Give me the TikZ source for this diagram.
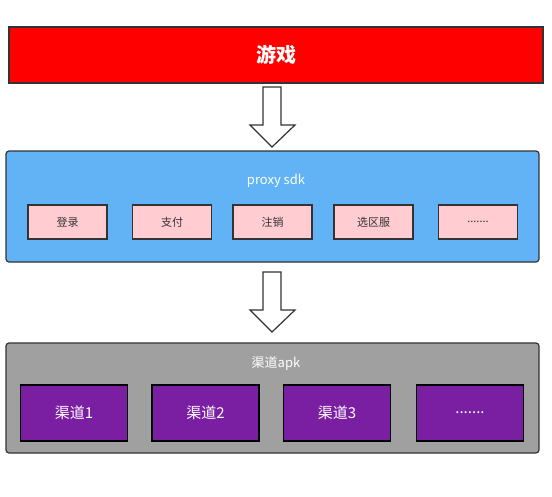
\documentclass[tikz,border=0pt]{standalone}
\usepackage{fontspec}
\usetikzlibrary{calc}
\setmainfont{Noto Sans CJK SC}
\definecolor{gred}{HTML}{FF0000}
\definecolor{sdkblue}{HTML}{62B3F5}
\definecolor{funcpink}{HTML}{FFCCD2}
\definecolor{apkgray}{HTML}{A0A0A0}
\definecolor{chpurple}{HTML}{7B1FA2}
\definecolor{edge}{HTML}{333333}
\begin{document}
\begin{tikzpicture}[x=1pt,y=-1pt,
  layerbox/.style={draw=edge,line width=1.2pt,rounded corners=3pt,inner sep=0pt},
  funcbox/.style={draw=edge,line width=1.2pt,fill=funcpink,minimum width=79pt,minimum height=34pt,inner sep=0pt,text=edge,font=\fontsize{11}{13}\selectfont},
  chbox/.style={draw=black,line width=1.2pt,fill=chpurple,minimum width=107pt,minimum height=56pt,inner sep=0pt,text=white,font=\fontsize{15}{18}\selectfont},
  bigarrow/.style={draw=edge,line width=1.2pt,fill=white,line join=miter}]
\useasboundingbox (0,0) rectangle (552,496);
% game
\node[draw=edge,line width=1.2pt,fill=gred,minimum width=534pt,minimum height=56pt,inner sep=0pt,text=white,font=\fontsize{20}{24}\selectfont\bfseries] (game) at (276,55) {游戏};
% proxy sdk layer
\node[layerbox,fill=sdkblue,minimum width=533pt,minimum height=111pt] (sdk) at (272.5,206.5) {};
\node[text=white,font=\fontsize{13}{15}\selectfont] (sdklabel) at (276,181) {proxy sdk};
\node[funcbox] (login) at (67.5,222) {登录};
\node[funcbox] (pay) at (172,222) {支付};
\node[funcbox] (logout) at (272.5,222) {注销};
\node[funcbox] (server) at (373.5,222) {选区服};
\node[funcbox] (moref) at (478,222) {.......};
% apk layer
\node[layerbox,fill=apkgray,minimum width=533pt,minimum height=110pt] (apk) at (272.5,398) {};
\node[text=white,font=\fontsize{13}{15}\selectfont] (apklabel) at (276,363) {渠道apk};
\node[chbox] (ch1) at (74,413) {渠道1};
\node[chbox] (ch2) at (205.5,413) {渠道2};
\node[chbox] (ch3) at (337,413) {渠道3};
\node[chbox] (chmore) at (470,413) {.......};
% arrows
\draw[bigarrow] (263,87) -- (281,87) -- (281,125) -- (295,125) -- (272,147) -- (250,125) -- (263,125) -- cycle;
\draw[bigarrow] (263,272) -- (281,272) -- (281,310) -- (295,310) -- (272,332) -- (250,310) -- (263,310) -- cycle;
\end{tikzpicture}
\end{document}
